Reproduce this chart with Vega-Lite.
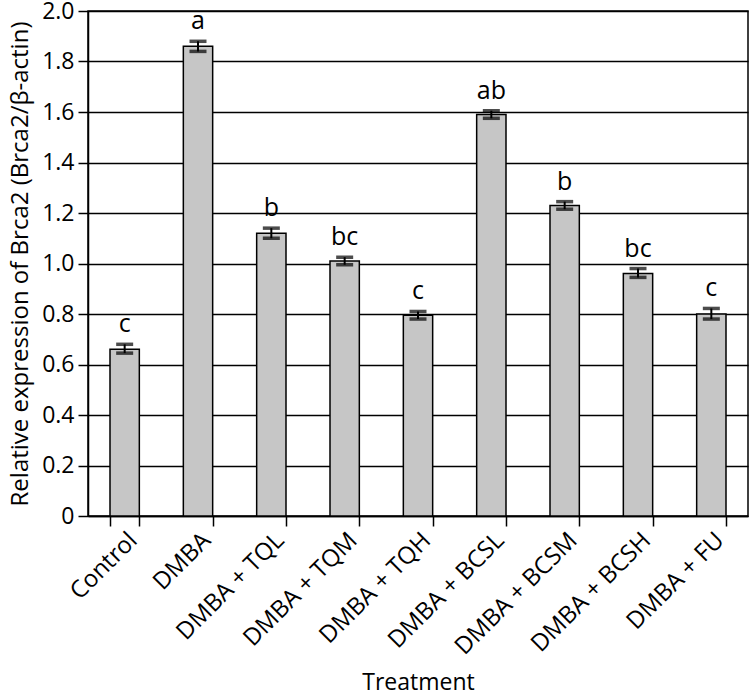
{
  "$schema": "https://vega.github.io/schema/vega-lite/v6.json",
  "width": 660,
  "height": 505,
  "autosize": "none",
  "padding": {"left": 88, "top": 11, "right": 2, "bottom": 181},
  "background": "white",
  "config": {
    "font": "Open Sans",
    "view": {"stroke": "black", "strokeWidth": 1.5}
  },
  "data": {
    "values": [
      {"group": "Control", "value": 0.66, "lo": 0.645, "hi": 0.68, "sig": "c"},
      {"group": "DMBA", "value": 1.86, "lo": 1.84, "hi": 1.88, "sig": "a"},
      {"group": "DMBA + TQL", "value": 1.12, "lo": 1.1, "hi": 1.14, "sig": "b"},
      {"group": "DMBA + TQM", "value": 1.01, "lo": 0.995, "hi": 1.025, "sig": "bc"},
      {"group": "DMBA + TQH", "value": 0.795, "lo": 0.78, "hi": 0.81, "sig": "c"},
      {"group": "DMBA + BCSL", "value": 1.59, "lo": 1.575, "hi": 1.605, "sig": "ab"},
      {"group": "DMBA + BCSM", "value": 1.23, "lo": 1.215, "hi": 1.245, "sig": "b"},
      {"group": "DMBA + BCSH", "value": 0.96, "lo": 0.945, "hi": 0.98, "sig": "bc"},
      {"group": "DMBA + FU", "value": 0.80, "lo": 0.78, "hi": 0.822, "sig": "c"}
    ]
  },
  "encoding": {
    "x": {
      "field": "group",
      "type": "nominal",
      "sort": null,
      "scale": {"paddingInner": 0.6, "paddingOuter": 0.3},
      "axis": {
        "title": "Treatment",
        "titleFontSize": 23,
        "titleFontWeight": "normal",
        "titleColor": "black",
        "titlePadding": 13,
        "labelAngle": -45,
        "labelFontSize": 24,
        "labelColor": "black",
        "labelPadding": 2,
        "tickBand": "extent",
        "tickColor": "black",
        "tickSize": 10,
        "tickWidth": 1.5,
        "domainColor": "black",
        "domainWidth": 1.5
      }
    }
  },
  "layer": [
    {
      "mark": {"type": "bar", "fill": "#c6c6c6", "stroke": "black", "strokeWidth": 1.5},
      "encoding": {
        "y": {
          "field": "value",
          "type": "quantitative",
          "scale": {"domain": [0, 2]},
          "axis": {
            "title": "Relative expression of Brca2 (Brca2/β-actin)",
            "titleFontSize": 24,
            "titleFontWeight": "normal",
            "titleColor": "black",
            "titlePadding": 9,
            "values": [0, 0.2, 0.4, 0.6, 0.8, 1.0, 1.2, 1.4, 1.6, 1.8, 2.0],
            "labelExpr": "datum.value == 0 ? '0' : format(datum.value, '.1f')",
            "labelFontSize": 23,
            "labelColor": "black",
            "labelPadding": 4,
            "tickColor": "black",
            "tickSize": 10,
            "tickWidth": 1.5,
            "domainColor": "black",
            "domainWidth": 1.5,
            "grid": true,
            "gridColor": "black",
            "gridWidth": 1.5,
            "gridOpacity": 1
          }
        }
      }
    },
    {
      "mark": {"type": "rule", "stroke": "black", "strokeWidth": 2},
      "encoding": {
        "y": {"field": "lo", "type": "quantitative"},
        "y2": {"field": "hi"}
      }
    },
    {
      "mark": {"type": "tick", "color": "black", "size": 17, "thickness": 3.5, "orient": "horizontal"},
      "encoding": {"y": {"field": "lo", "type": "quantitative"}}
    },
    {
      "mark": {"type": "tick", "color": "black", "size": 17, "thickness": 3.5, "orient": "horizontal"},
      "encoding": {"y": {"field": "hi", "type": "quantitative"}}
    },
    {
      "mark": {"type": "text", "fontSize": 25, "baseline": "alphabetic", "dy": -12, "color": "black"},
      "encoding": {
        "y": {"field": "hi", "type": "quantitative"},
        "text": {"field": "sig"}
      }
    }
  ]
}
